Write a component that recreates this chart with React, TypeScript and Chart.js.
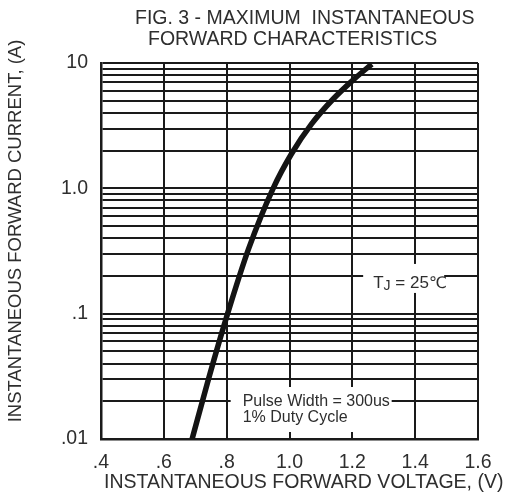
import { useEffect, useRef } from "react";
import { Chart, registerables } from "chart.js";

Chart.register(...registerables);

// ---- data ----
const voltage = [0.69, 0.742, 0.803, 0.87, 0.948, 1.006, 1.071, 1.139, 1.206, 1.262];
const current = [0.01, 0.03, 0.1, 0.33, 1.0, 1.88, 3.28, 5.16, 7.45, 9.8];

const xTickValues = [0.4, 0.6, 0.8, 1.0, 1.2, 1.4, 1.6];
const xTickLabels = [".4", ".6", ".8", "1.0", "1.2", "1.4", "1.6"];

const yGridValues = [
  0.01, 0.02, 0.03, 0.04, 0.05, 0.06, 0.07, 0.08, 0.09,
  0.1, 0.2, 0.3, 0.4, 0.5, 0.6, 0.7, 0.8, 0.9,
  1, 2, 3, 4, 5, 6, 7, 8, 9,
  10,
];
const yMajorValues = [0.01, 0.1, 1, 10];
const yMajorLabels = [".01", ".1", "1.0", "10"];

const titleLines = ["FIG. 3 - MAXIMUM  INSTANTANEOUS", "FORWARD CHARACTERISTICS"];
const xTitle = "INSTANTANEOUS FORWARD VOLTAGE, (V)";
const yTitle = "INSTANTANEOUS FORWARD CURRENT, (A)";
const tempNoteParts = ["T", "J", " = 25", "\u2103"];
const pulseNoteLines = ["Pulse Width = 300us", "1% Duty Cycle"];

const FONT = '"Liberation Sans", Arial, Helvetica, sans-serif';
const TEXT = "#2e2e2e";
const GRID = "#1a1a1a";

const textPlugin = {
  id: "figText",
  afterDraw(chart: any) {
    const ctx = chart.ctx as CanvasRenderingContext2D;
    const xs = chart.scales.x;
    const ys = chart.scales.y;
    ctx.save();
    ctx.fillStyle = TEXT;
    ctx.textBaseline = "alphabetic";

    // title
    ctx.font = `19.5px ${FONT}`;
    ctx.textAlign = "left";
    ctx.fillText(titleLines[0], 135, 24);
    ctx.fillText(titleLines[1], 148, 45);

    // x title
    ctx.fillText(xTitle, 104, 488);

    // y title
    ctx.save();
    ctx.translate(21, 231);
    ctx.rotate(-Math.PI / 2);
    ctx.textAlign = "center";
    ctx.font = `18.5px ${FONT}`;
    ctx.fillText(yTitle, 0, 0);
    ctx.restore();

    // T_J box
    const tjLeft = xs.getPixelForValue(1.4) - 52;
    const tjTop = ys.getPixelForValue(0.2) - 12;
    ctx.fillStyle = "#ffffff";
    ctx.fillRect(tjLeft, tjTop, 81, 29);
    ctx.fillStyle = TEXT;
    let tx = tjLeft + 10;
    const tb = tjTop + 24;
    ctx.font = `17px ${FONT}`;
    ctx.fillText(tempNoteParts[0], tx, tb);
    tx += ctx.measureText(tempNoteParts[0]).width;
    ctx.font = `14px ${FONT}`;
    ctx.fillText(tempNoteParts[1], tx, tb + 2);
    tx += ctx.measureText(tempNoteParts[1]).width;
    ctx.font = `17px ${FONT}`;
    ctx.fillText(tempNoteParts[2], tx, tb);
    tx += ctx.measureText(tempNoteParts[2]).width;
    ctx.font = `16px "DejaVu Sans", ${FONT}`;
    ctx.fillText(tempNoteParts[3], tx, tb);

    // pulse box
    const pLeft = xs.getPixelForValue(0.8) + 4;
    const pTop = chart.chartArea.bottom - 52;
    ctx.fillStyle = "#ffffff";
    ctx.fillRect(pLeft, pTop, 161, 45);
    ctx.fillStyle = TEXT;
    ctx.font = `16px ${FONT}`;
    ctx.fillText(pulseNoteLines[0], pLeft + 12, pTop + 19);
    ctx.fillText(pulseNoteLines[1], pLeft + 12, pTop + 35);

    ctx.restore();
  },
};

export default function App() {
  const canvasRef = useRef<HTMLCanvasElement | null>(null);

  useEffect(() => {
    const canvas = canvasRef.current;
    if (!canvas) return;
    const chart = new Chart(canvas, {
      type: "line",
      data: {
        datasets: [
          {
            data: voltage.map((v, i) => ({ x: v, y: current[i] })),
            borderColor: "#141414",
            borderWidth: 5.5,
            pointRadius: 0,
            cubicInterpolationMode: "monotone",
            fill: false,
          },
        ],
      },
      options: {
        animation: false,
        responsive: false,
        layout: { padding: { left: 0, top: 63, right: 42, bottom: 0 } },
        plugins: {
          legend: { display: false },
          tooltip: { enabled: false },
          title: { display: false },
        },
        scales: {
          x: {
            type: "linear",
            min: 0.4,
            max: 1.6,
            afterBuildTicks: (s: any) => {
              s.ticks = xTickValues.map((v) => ({ value: v }));
            },
            afterFit: (s: any) => {
              s.height = 62;
            },
            grid: { color: GRID, lineWidth: 2, drawTicks: false },
            border: { color: GRID, width: 2.5 },
            ticks: {
              autoSkip: false,
              maxRotation: 0,
              padding: 12,
              color: TEXT,
              font: { family: FONT, size: 19.5 },
              callback: (value: any) => {
                const i = xTickValues.findIndex((v) => Math.abs(v - Number(value)) < 1e-6);
                return i >= 0 ? xTickLabels[i] : "";
              },
            },
          },
          y: {
            type: "logarithmic",
            min: 0.01,
            max: 10,
            afterBuildTicks: (s: any) => {
              s.ticks = yGridValues.map((v) => ({ value: v }));
            },
            afterFit: (s: any) => {
              s.width = 101;
            },
            grid: { color: GRID, lineWidth: 2, drawTicks: false },
            border: { color: GRID, width: 2.5 },
            ticks: {
              autoSkip: false,
              padding: 13,
              color: TEXT,
              font: { family: FONT, size: 19.5 },
              callback: (value: any) => {
                const i = yMajorValues.findIndex(
                  (v) => Math.abs(Math.log10(v) - Math.log10(Number(value))) < 1e-6
                );
                return i >= 0 ? yMajorLabels[i] : "";
              },
            },
          },
        },
      },
      plugins: [textPlugin],
    } as any);
    return () => chart.destroy();
  }, []);

  return (
    <div style={{ position: "absolute", left: 0, top: 0, width: 520, height: 501, background: "#fff" }}>
      <canvas ref={canvasRef} width={520} height={501} style={{ width: 520, height: 501, display: "block" }} />
    </div>
  );
}
